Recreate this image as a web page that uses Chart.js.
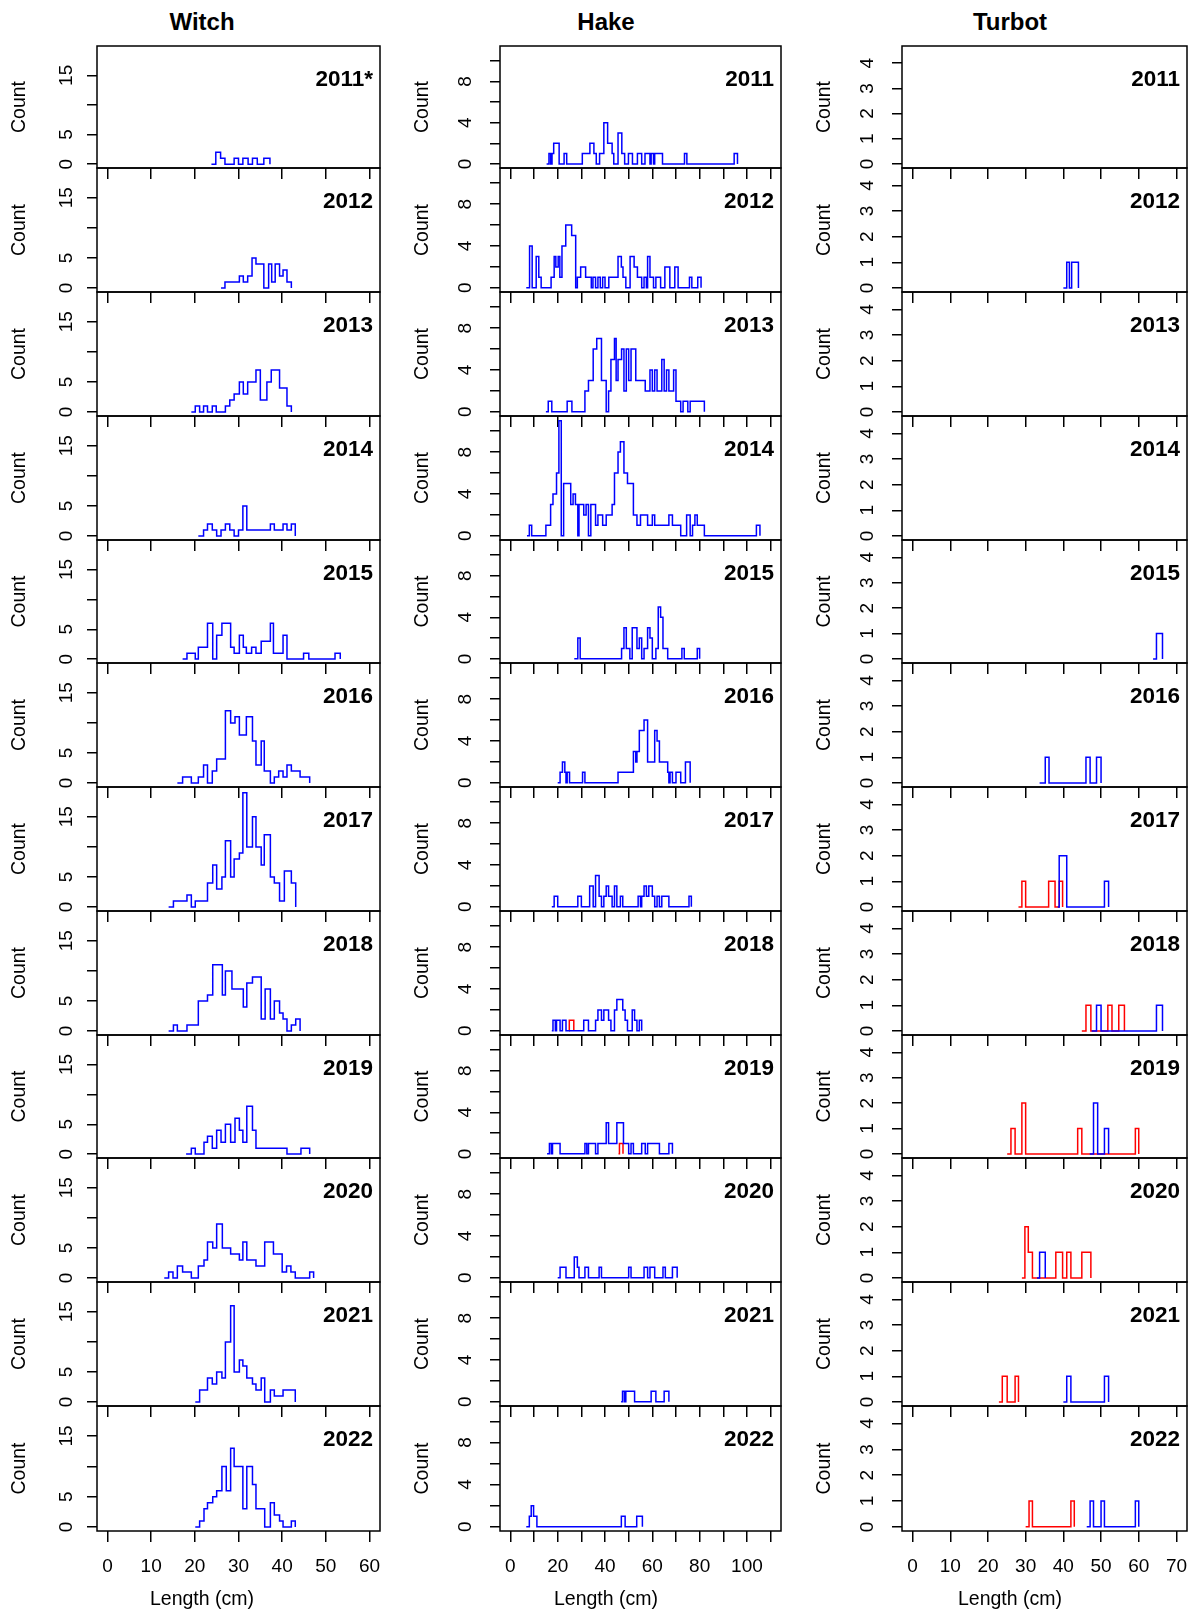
<!DOCTYPE html>
<html>
<head>
<meta charset="utf-8">
<script src="https://cdn.jsdelivr.net/npm/chart.js@4.4.1/dist/chart.umd.min.js"></script>
<style>
  body { margin: 0; background: #fff; }
  #page { position: relative; width: 1192px; height: 1611px; overflow: hidden; font-family: "Liberation Sans", Arial, sans-serif; color: #000; }
  #page canvas { position: absolute; }
  .head { position: absolute; width: 300px; top: 10px; text-align: center; font-weight: bold; font-size: 24px; line-height: 24px; }
  .xlab { position: absolute; width: 300px; top: 1589px; text-align: center; font-size: 19.5px; line-height: 19.5px; }
</style>
</head>
<body>
<div id="page"></div>
<script>
// ---- data ----
const species = ['Witch', 'Hake', 'Turbot'];
const years = [2011, 2012, 2013, 2014, 2015, 2016, 2017, 2018, 2019, 2020, 2021, 2022];
const witchYearLabels = ['2011*', '2012', '2013', '2014', '2015', '2016', '2017', '2018', '2019', '2020', '2021', '2022'];

const witchXTicks = [0, 10, 20, 30, 40, 50, 60];
const hakeXTicks = [0, 10, 20, 30, 40, 50, 60, 70, 80, 90, 100, 110];
const hakeXLabels = [0, 20, 40, 60, 80, 100];
const turbotXTicks = [0, 10, 20, 30, 40, 50, 60, 70];
const witchYTicks = [0, 5, 10, 15];
const witchYLabels = [0, 5, 15];
const hakeYTicks = [0, 2, 4, 6, 8, 10];
const hakeYLabels = [0, 4, 8];
const turbotYTicks = [0, 1, 2, 3, 4];

// step points [length, count] per year (count holds until next length)
const witchBlue = [
  [[23.8,0],[24.8,2],[25.9,1],[26.9,0],[29,1],[30,0],[31,1],[32.2,0],[33.2,1],[34.3,0],[35.8,1],[37.2,0]],
  [[26,0],[26.9,1],[30.2,2],[31.1,1],[32.1,2],[33.1,5],[34,4],[35.8,0],[36.9,4],[37.6,1],[38.4,4],[39.4,2],[40.2,3],[41.1,1],[42.1,0]],
  [[19.2,0],[20.1,1],[21.1,0],[22,1],[22.9,0],[24,1],[24.9,0],[27,1],[28,2],[29,3],[30.2,5],[31.1,3],[32.1,5],[34,7],[35,2],[36.5,5],[37.5,7],[39.4,4],[41.1,1],[42.1,0]],
  [[20.8,0],[22,1],[22.9,2],[24,1],[25,0],[26,1],[27,2],[28,1],[29,0],[30,1],[31,5],[31.9,1],[37.3,2],[38.2,1],[40.2,2],[41.1,1],[42.1,2],[43,0]],
  [[17.2,0],[18.2,1],[20.1,0],[20.8,2],[22.9,6],[24.1,0],[25,4],[26.2,6],[28.2,2],[29,1],[30.2,4],[31.1,2],[31.8,1],[33,2],[34,1],[35.2,3],[37.3,6],[38,1],[40.2,4],[41.1,0],[44.9,1],[46.1,0],[52.1,1],[53.3,0]],
  [[16,0],[17.2,1],[19.2,0],[20.8,1],[22,3],[22.9,0],[24,2],[25,4],[27,12],[28.2,10],[29.2,11],[30.2,8],[31.8,11],[33.2,7],[34,3],[35.2,7],[35.9,2],[37.3,0],[38.2,1],[39.2,2],[40.2,1],[41.1,3],[42.1,2],[44.1,1],[46.3,0]],
  [[14,0],[15.1,1],[18.2,2],[19.2,0],[20.1,1],[22.9,4],[24.1,7],[25,3],[26.2,5],[27,11],[28.2,5],[29,8],[30.2,9],[31,19],[31.9,10],[33.2,15],[34,10],[35.2,7],[35.9,12],[37.3,5],[38.2,4],[39.4,1],[40.5,6],[42.1,4],[43.1,0]],
  [[14,0],[15.1,1],[16,0],[18.2,1],[20.8,5],[22.9,6],[24.1,11],[26.3,6],[27,10],[28.5,7],[31.1,4],[31.9,8],[33.2,9],[35.2,2],[36.1,7],[37.3,2],[38.2,5],[39.4,3],[40.2,2],[41.1,0],[42.1,1],[43.1,2],[44.1,0]],
  [[18,0],[19.2,1],[20.1,0],[22.1,2],[22.9,3],[24,1],[25,4],[26,2],[27,5],[28.2,2],[29.2,6],[30.2,4],[31,2],[31.9,8],[33.2,4],[34,1],[41.1,0],[44.3,1],[46.3,0]],
  [[13,0],[14,1],[15,0],[16,2],[17.2,1],[19.2,0],[20.8,2],[22.1,3],[22.9,6],[24.1,5],[25,9],[26.3,5],[28.2,4],[30.2,3],[31,6],[31.9,3],[34,2],[36,6],[38,4],[40,1],[41,2],[42,1],[43,0],[46.3,1],[47.2,0]],
  [[20.1,0],[21.1,2],[22.9,4],[24,3],[25,5],[26.2,4],[27,10],[28.2,16],[29,5],[30.2,7],[31,6],[31.9,4],[33.2,3],[34,2],[35.2,4],[36,0],[37.3,2],[38.2,1],[40.2,2],[43,0]],
  [[20.1,0],[21.1,1],[22.1,3],[22.9,4],[24.1,5],[25,6],[26.2,10],[27.2,6],[28.2,13],[29,10],[31,3],[31.9,10],[33.2,7],[34,3],[36,0],[37.3,4],[38.2,2],[39.4,1],[40.2,0],[42.1,1],[43,0]]
];

const hakeBlue = [
  [[15.3,0],[16.3,1],[17,0],[17.6,1],[18.3,2],[20.6,0],[22.7,1],[23.8,0],[30.4,1],[33.6,2],[35.3,1],[36.3,0],[37.7,1],[39.5,4],[41.1,2],[43,1],[43.7,0],[45.5,3],[47.1,1],[48.3,0],[49.9,1],[51.6,0],[53.7,1],[55.5,0],[56.9,1],[59,0],[59.5,1],[60.5,0],[61,1],[64.3,0],[73.6,1],[74.6,0],[94.6,1],[96,0]],
  [[6.7,0],[8.1,4],[9.2,0],[10.9,3],[12,1],[13,0],[17.2,1],[18.5,3],[19.2,2],[20.2,3],[20.9,1],[21.8,4],[23.4,6],[25.9,5],[27.6,0],[28.3,1],[29.7,2],[31.8,1],[34.2,0],[34.9,1],[36,0],[37,1],[38,0],[39,1],[40,0],[41.6,1],[45.5,3],[46.9,2],[47.6,1],[48.8,0],[50.6,3],[52.3,2],[53.7,1],[55.5,0],[56.5,1],[57.5,0],[58,3],[59,1],[60.5,0],[61.5,1],[63.5,0],[65.3,2],[67.4,0],[69.5,2],[70.9,0],[75.7,1],[76.7,0],[79.2,1],[80.6,0]],
  [[15,0],[16,1],[17.5,0],[24,1],[26,0],[31.5,2],[33,3],[35,6],[36.5,7],[38.5,3],[40.5,0],[41.5,2],[42.5,5],[44,7],[44.7,3],[45.5,5],[47,6],[48,2],[49,6],[50,3],[51,6],[53,3],[57,2],[59,4],[60,2],[61,4],[62,2],[64,5],[65,2],[66,4],[67,2],[69,4],[70,1],[72,0],[73,1],[75,0],[76,1],[82,0]],
  [[7,0],[8,1],[9,0],[15,1],[17,3],[18,4],[19.5,6],[20.5,11],[21.5,0],[22.5,5],[25.5,3],[26.5,4],[27.5,3],[28.5,0],[29,3],[31,2],[32,3],[33,0],[34,3],[36,1],[37,2],[39,1],[40.5,2],[43,3],[44,6],[45.5,8],[46.5,9],[48,6],[49.5,5],[52,2],[53.5,1],[55,2],[58,1],[60,2],[61,1],[67,2],[68.5,1],[72,0],[74.5,2],[76,0],[77,1],[78,2],[79,1],[82,0],[104,1],[105.5,0]],
  [[27,0],[28.5,2],[29.5,0],[47,1],[48,3],[49,1],[50.5,0],[51.5,3],[53.5,1],[54.5,2],[55.5,0],[56.5,1],[58,3],[59,2],[60,0],[61.5,1],[62.5,5],[63.5,4],[64.5,1],[66.5,0],[72.5,1],[73.5,0],[79,1],[80,0]],
  [[20,0],[21,1],[22,2],[23,1],[23.5,0],[24,1],[25,0],[30.5,1],[31.5,0],[45.5,1],[52,3],[53,2],[53.5,3],[54.5,5],[56.5,6],[58,2],[61,5],[62,4],[63,2],[66.5,1],[67,0],[67.5,1],[68.5,0],[70,1],[72,0],[74,2],[76,0]],
  [[17.5,0],[18.5,1],[20,0],[28.5,1],[30,0],[33.5,2],[35,0],[36,3],[37.5,1],[38.5,0],[39.5,1],[40.5,2],[41.5,1],[43,0],[44,2],[45,0],[46.5,1],[47.5,0],[54,1],[55,0],[55.5,1],[56.5,2],[57.5,1],[58.5,2],[60,1],[61,0],[62,1],[63,0],[64,1],[67,0],[75.5,1],[76.5,0]],
  [[17.5,0],[18,1],[19,0],[19.5,1],[21,0],[22,1],[23.5,0],[31,1],[33,0],[36,1],[37,2],[38.5,1],[39.5,2],[41.5,1],[42.5,0],[44,2],[45,3],[47.5,2],[48.5,1],[49.5,0],[51.5,2],[52.5,1],[53.5,0],[54.5,1],[55.5,0]],
  [[15.5,0],[16.5,1],[17.3,0],[17.8,1],[21,0],[31.5,1],[32.3,0],[33,1],[36,0],[37,1],[40.5,3],[41.5,1],[45,3],[47.8,1],[50,0],[51,1],[52,0],[55.5,1],[57,0],[58,1],[61,1],[63,0],[67,1],[68.5,0]],
  [[20,0],[21,1],[23.5,0],[27,2],[28.3,1],[29,0],[31.5,1],[33,0],[37.5,1],[38.5,0],[50,1],[51,0],[56.5,1],[58,0],[59,1],[61,0],[64.5,1],[65.5,0],[68.5,1],[70.5,0]],
  [[46.8,0],[47.4,1],[48.2,0],[48.8,1],[52.5,0],[59.5,1],[61.5,0],[65,1],[67,0]],
  [[6.7,0],[8,1],[8.8,2],[9.8,1],[11.2,0],[46.9,1],[48.5,0],[53.4,1],[55.8,0]]
];
const hakeRed = [[], [], [], [], [], [], [],
  [[24.8,0],[24.9,1],[26.8,0]],
  [[45.7,0],[46.1,1],[47.6,0]],
  [], [], []];

const turbotBlue = [
  [],
  [[40,0],[40.9,1],[41.6,0],[42.2,1],[44,0]],
  [], [],
  [[63.8,0],[64.7,1],[66.3,0]],
  [[33.7,0],[35.2,1],[36.2,0],[46,1],[47.1,0],[48.8,1],[50,0]],
  [[38.5,0],[38.9,2],[40.9,0],[50.9,1],[52,0]],
  [[47.5,0],[48.8,1],[50,0],[64.7,1],[66.3,0]],
  [[47,0],[48,2],[49.1,0],[50.9,1],[52,0]],
  [[33,0],[33.7,1],[35.2,0]],
  [[40,0],[40.9,1],[42,0],[50.9,1],[52,0]],
  [[46.2,0],[47.1,1],[48,0],[50,1],[50.9,0],[59.1,1],[60,0]]
];
const turbotRed = [[], [], [], [], [], [],
  [[28.1,0],[29,1],[30,0],[36.1,1],[37.8,0],[38.9,1],[39.8,0]],
  [[44.9,0],[46,1],[47.3,0],[51.8,1],[52.9,0],[54.7,1],[56.2,0]],
  [[25.1,0],[26.1,1],[27.2,0],[29,2],[30,0],[43.8,1],[44.9,0],[59.1,1],[60,0]],
  [[29,0],[29.8,2],[30.7,1],[31.8,0],[38,1],[39.8,0],[40.9,1],[42,0],[44.9,1],[47.3,0]],
  [[22.9,0],[23.8,1],[25.1,0],[27.2,1],[28.1,0]],
  [[30,0],[30.9,1],[31.8,0],[42,1],[42.9,0]]
];

// ---- layout ----
const rowEdges = [46, 168, 292, 416, 540, 663, 787, 911, 1035, 1158, 1282, 1406, 1531];
const AXIS_W = 97, PAD_T = 2, PAD_R = 4;

const columns = [
  { left: 97, right: 380, center: 202, xMin: -2.4, xMax: 62.4, yMin: -0.65, yMax: 19.95,
    xTicks: witchXTicks, xLabels: witchXTicks, yTicks: witchYTicks, yLabels: witchYLabels, yPad: 10,
    yearLabels: witchYearLabels, blue: witchBlue, red: null },
  { left: 500, right: 781, center: 606, xMin: -4.4, xMax: 114.4, yMin: -0.4, yMax: 11.45,
    xTicks: hakeXTicks, xLabels: hakeXLabels, yTicks: hakeYTicks, yLabels: hakeYTicks.filter(v => hakeYLabels.includes(v)), yPad: 19,
    yearLabels: years.map(String), blue: hakeBlue, red: hakeRed },
  { left: 902, right: 1187, center: 1010, xMin: -2.8, xMax: 72.8, yMin: -0.16, yMax: 4.68,
    xTicks: turbotXTicks, xLabels: turbotXTicks, yTicks: turbotYTicks, yLabels: turbotYTicks, yPad: 19,
    yearLabels: years.map(String), blue: turbotBlue, red: turbotRed }
];

Chart.defaults.font.family = '"Liberation Sans", Arial, sans-serif';
Chart.defaults.color = '#000';

// box round the plot area and the year in its corner
const panelFrame = {
  id: 'panelFrame',
  afterDraw(chart, args, opts) {
    const { ctx, chartArea: a } = chart;
    ctx.save();
    ctx.strokeStyle = '#000';
    ctx.lineWidth = 1.5;
    ctx.strokeRect(a.left, a.top, a.right - a.left, a.bottom - a.top);
    ctx.font = 'bold 22.5px "Liberation Sans", Arial, sans-serif';
    ctx.fillStyle = '#000';
    ctx.textAlign = 'right';
    ctx.textBaseline = 'alphabetic';
    ctx.fillText(opts.year, a.right - 7, a.top + 40);
    ctx.restore();
  }
};

const page = document.getElementById('page');

function stepLine(steps, color) {
  return {
    data: steps.map(([x, y]) => ({ x, y })),
    borderColor: color,
    borderWidth: 1.5,
    stepped: 'before',
    pointRadius: 0,
    fill: false,
    tension: 0
  };
}

function drawPanel(col, row) {
  const last = row === years.length - 1;
  const boxH = rowEdges[row + 1] - rowEdges[row];
  const xAxisH = last ? 60 : 12;
  const w = AXIS_W + (col.right - col.left) + PAD_R;
  const h = PAD_T + boxH + xAxisH;

  const canvas = document.createElement('canvas');
  canvas.width = w;
  canvas.height = h;
  canvas.style.left = (col.left - AXIS_W) + 'px';
  canvas.style.top = (rowEdges[row] - PAD_T) + 'px';
  canvas.style.width = w + 'px';
  canvas.style.height = h + 'px';
  page.appendChild(canvas);

  const datasets = [];
  if (col.blue[row].length) datasets.push(stepLine(col.blue[row], '#0000ff'));
  if (col.red && col.red[row].length) datasets.push(stepLine(col.red[row], '#ff0000'));

  const tickGrid = (len) => ({
    display: true, drawOnChartArea: false, drawTicks: true, tickLength: len,
    color: '#000', tickColor: '#000', lineWidth: 1.5, tickWidth: 1.5
  });

  new Chart(canvas, {
    type: 'line',
    data: { datasets },
    options: {
      responsive: false,
      animation: false,
      devicePixelRatio: 1,
      events: [],
      layout: { padding: { top: PAD_T, right: PAD_R, left: 0, bottom: 0 } },
      plugins: {
        legend: { display: false },
        tooltip: { enabled: false },
        panelFrame: { year: col.yearLabels[row] }
      },
      scales: {
        x: {
          type: 'linear',
          min: col.xMin,
          max: col.xMax,
          afterBuildTicks: s => { s.ticks = col.xTicks.map(v => ({ value: v })); },
          afterFit: s => { s.height = xAxisH; s.paddingLeft = 0; s.paddingRight = 0; },
          grid: tickGrid(11),
          border: { display: false },
          ticks: {
            display: last,
            autoSkip: false,
            minRotation: 0,
            maxRotation: 0,
            padding: 13,
            font: { size: 19 },
            callback: v => col.xLabels.includes(v) ? String(v) : ''
          }
        },
        y: {
          type: 'linear',
          min: col.yMin,
          max: col.yMax,
          afterBuildTicks: s => { s.ticks = col.yTicks.map(v => ({ value: v })); },
          afterFit: s => { s.width = AXIS_W; s.paddingTop = 0; s.paddingBottom = 0; },
          grid: tickGrid(10),
          border: { display: false },
          title: { display: true, text: 'Count', font: { size: 19.5 }, padding: { top: 8, bottom: 0 } },
          ticks: {
            autoSkip: false,
            minRotation: 90,
            maxRotation: 90,
            crossAlign: 'center',
            padding: col.yPad,
            font: { size: 19 },
            callback: v => col.yLabels.includes(v) ? String(v) : ''
          }
        }
      }
    },
    plugins: [panelFrame]
  });
}

columns.forEach((col, i) => {
  years.forEach((y, r) => drawPanel(col, r));

  const head = document.createElement('div');
  head.className = 'head';
  head.textContent = species[i];
  head.style.left = (col.center - 150) + 'px';
  page.appendChild(head);

  const xlab = document.createElement('div');
  xlab.className = 'xlab';
  xlab.textContent = 'Length (cm)';
  xlab.style.left = (col.center - 150) + 'px';
  page.appendChild(xlab);
});
</script>
</body>
</html>
